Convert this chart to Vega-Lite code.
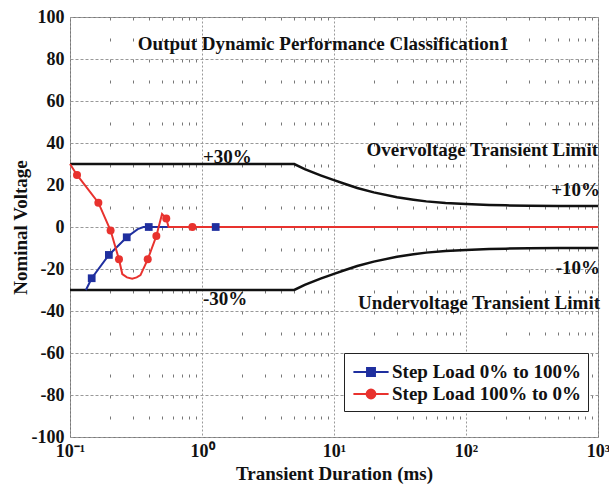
{
  "$schema": "https://vega.github.io/schema/vega-lite/v6.json",
  "width": 528,
  "height": 420,
  "autosize": "none",
  "padding": {"left": 70, "top": 17, "right": 11, "bottom": 54},
  "background": "white",
  "config": {
    "view": {"stroke": "#777", "strokeWidth": 1},
    "font": "Liberation Serif"
  },
  "datasets": {
    "limits": [
      {"t": 0.1, "v": 30, "limit": "upper"}, {"t": 5, "v": 30, "limit": "upper"}, {"t": 6, "v": 27.6, "limit": "upper"}, {"t": 7, "v": 25.9, "limit": "upper"}, {"t": 8, "v": 24.5, "limit": "upper"}, {"t": 10, "v": 22.3, "limit": "upper"}, {"t": 12, "v": 20.6, "limit": "upper"}, {"t": 15, "v": 18.6, "limit": "upper"}, {"t": 20, "v": 16.5, "limit": "upper"}, {"t": 30, "v": 14.2, "limit": "upper"}, {"t": 40, "v": 13, "limit": "upper"}, {"t": 50, "v": 12.2, "limit": "upper"}, {"t": 70, "v": 11.4, "limit": "upper"}, {"t": 100, "v": 10.9, "limit": "upper"}, {"t": 150, "v": 10.5, "limit": "upper"}, {"t": 200, "v": 10.3, "limit": "upper"}, {"t": 300, "v": 10.1, "limit": "upper"}, {"t": 500, "v": 10, "limit": "upper"}, {"t": 1000, "v": 10, "limit": "upper"},
      {"t": 0.1, "v": -30, "limit": "lower"}, {"t": 5, "v": -30, "limit": "lower"}, {"t": 6, "v": -27.6, "limit": "lower"}, {"t": 7, "v": -25.9, "limit": "lower"}, {"t": 8, "v": -24.5, "limit": "lower"}, {"t": 10, "v": -22.3, "limit": "lower"}, {"t": 12, "v": -20.6, "limit": "lower"}, {"t": 15, "v": -18.6, "limit": "lower"}, {"t": 20, "v": -16.5, "limit": "lower"}, {"t": 30, "v": -14.2, "limit": "lower"}, {"t": 40, "v": -13, "limit": "lower"}, {"t": 50, "v": -12.2, "limit": "lower"}, {"t": 70, "v": -11.4, "limit": "lower"}, {"t": 100, "v": -10.9, "limit": "lower"}, {"t": 150, "v": -10.5, "limit": "lower"}, {"t": 200, "v": -10.3, "limit": "lower"}, {"t": 300, "v": -10.1, "limit": "lower"}, {"t": 500, "v": -10, "limit": "lower"}, {"t": 1000, "v": -10, "limit": "lower"}
    ],
    "curves": [
      {"t": 0.132, "v": -30, "series": "Step Load 0% to 100%"},
      {"t": 0.146, "v": -24.4, "series": "Step Load 0% to 100%"},
      {"t": 0.197, "v": -13.3, "series": "Step Load 0% to 100%"},
      {"t": 0.269, "v": -4.9, "series": "Step Load 0% to 100%"},
      {"t": 0.326, "v": -1, "series": "Step Load 0% to 100%"},
      {"t": 0.36, "v": 0, "series": "Step Load 0% to 100%"},
      {"t": 0.395, "v": 0, "series": "Step Load 0% to 100%"},
      {"t": 1.27, "v": 0, "series": "Step Load 0% to 100%"},
      {"t": 0.1, "v": 30, "series": "Step Load 100% to 0%"},
      {"t": 0.113, "v": 24.8, "series": "Step Load 100% to 0%"},
      {"t": 0.164, "v": 11.6, "series": "Step Load 100% to 0%"},
      {"t": 0.203, "v": -1.7, "series": "Step Load 100% to 0%"},
      {"t": 0.235, "v": -15.4, "series": "Step Load 100% to 0%"},
      {"t": 0.249, "v": -22.4, "series": "Step Load 100% to 0%"},
      {"t": 0.27, "v": -24, "series": "Step Load 100% to 0%"},
      {"t": 0.296, "v": -24.6, "series": "Step Load 100% to 0%"},
      {"t": 0.32, "v": -24, "series": "Step Load 100% to 0%"},
      {"t": 0.342, "v": -22.9, "series": "Step Load 100% to 0%"},
      {"t": 0.388, "v": -15.4, "series": "Step Load 100% to 0%"},
      {"t": 0.451, "v": -4.3, "series": "Step Load 100% to 0%"},
      {"t": 0.498, "v": 6.2, "series": "Step Load 100% to 0%"},
      {"t": 0.536, "v": 4.1, "series": "Step Load 100% to 0%"},
      {"t": 0.558, "v": 0, "series": "Step Load 100% to 0%"},
      {"t": 1000, "v": 0, "series": "Step Load 100% to 0%"}
    ],
    "markers": [
      {"t": 0.146, "v": -24.4, "series": "Step Load 0% to 100%"},
      {"t": 0.197, "v": -13.3, "series": "Step Load 0% to 100%"},
      {"t": 0.269, "v": -4.9, "series": "Step Load 0% to 100%"},
      {"t": 0.395, "v": 0, "series": "Step Load 0% to 100%"},
      {"t": 1.27, "v": 0, "series": "Step Load 0% to 100%"},
      {"t": 0.113, "v": 24.8, "series": "Step Load 100% to 0%"},
      {"t": 0.164, "v": 11.6, "series": "Step Load 100% to 0%"},
      {"t": 0.203, "v": -1.7, "series": "Step Load 100% to 0%"},
      {"t": 0.235, "v": -15.4, "series": "Step Load 100% to 0%"},
      {"t": 0.388, "v": -15.4, "series": "Step Load 100% to 0%"},
      {"t": 0.451, "v": -4.3, "series": "Step Load 100% to 0%"},
      {"t": 0.536, "v": 4.1, "series": "Step Load 100% to 0%"},
      {"t": 0.845, "v": 0, "series": "Step Load 100% to 0%"}
    ],
    "labels": [
      {"t": 8.3, "v": 87, "text": "Output Dynamic Performance Classification1", "grp": "center"},
      {"t": 1, "v": 33.3, "text": "+30%", "grp": "left"},
      {"t": 1, "v": -34.5, "text": "-30%", "grp": "left"},
      {"t": 966, "v": 36.7, "text": "Overvoltage Transient Limit", "grp": "right"},
      {"t": 1000, "v": 17.5, "text": "+10%", "grp": "right"},
      {"t": 1000, "v": -19.5, "text": "-10%", "grp": "right"},
      {"t": 1000, "v": -36, "text": "Undervoltage Transient Limit", "grp": "right"}
    ]
  },
  "layer": [
    {
      "data": {"name": "limits"},
      "mark": {"type": "line", "color": "#111111", "strokeWidth": 2.5},
      "encoding": {
        "x": {
          "field": "t", "type": "quantitative",
          "scale": {"type": "log", "domain": [0.1, 1000], "nice": false},
          "axis": {
            "orient": "bottom",
            "values": [0.1, 0.2, 0.3, 0.4, 0.5, 0.6, 0.7, 0.8, 0.9, 1, 2, 3, 4, 5, 6, 7, 8, 9, 10, 20, 30, 40, 50, 60, 70, 80, 90, 100, 200, 300, 400, 500, 600, 700, 800, 900, 1000],
            "labelExpr": "datum.value == 0.1 ? '10⁻¹' : datum.value == 1 ? '10⁰' : datum.value == 10 ? '10¹' : datum.value == 100 ? '10²' : datum.value == 1000 ? '10³' : ''",
            "title": "Transient Duration (ms)",
            "titleFont": "Liberation Serif", "titleFontWeight": "bold", "titleFontSize": 19, "titleColor": "#111", "titlePadding": 4,
            "labelFont": "Liberation Serif", "labelFontWeight": "bold", "labelFontSize": 18, "labelColor": "#111", "labelPadding": 5,
            "labelBound": false, "labelOverlap": false, "labelFlush": false,
            "domain": false, "ticks": false,
            "grid": true,
            "gridColor": {"condition": {"test": "indexof([0.1, 1, 10, 100, 1000], datum.value) >= 0", "value": "#999"}, "value": "#777"},
            "gridDash": {"condition": {"test": "indexof([0.1, 1, 10, 100, 1000], datum.value) >= 0", "value": [2, 2]}, "value": [3, 18]},
            "gridWidth": 1
          }
        },
        "y": {
          "field": "v", "type": "quantitative",
          "scale": {"domain": [-100, 100], "nice": false},
          "axis": {
            "values": [-100, -80, -60, -40, -20, 0, 20, 40, 60, 80, 100],
            "labelExpr": "'' + datum.value",
            "title": "Nominal Voltage",
            "titleFont": "Liberation Serif", "titleFontWeight": "bold", "titleFontSize": 19, "titleColor": "#111", "titlePadding": 1,
            "labelFont": "Liberation Serif", "labelFontWeight": "bold", "labelFontSize": 18, "labelColor": "#111", "labelPadding": 6,
            "labelOverlap": false, "labelBound": false,
            "domain": false, "ticks": false,
            "grid": true, "gridColor": "#999", "gridDash": [3, 2], "gridWidth": 1
          }
        },
        "detail": {"field": "limit"}
      }
    },
    {
      "data": {"name": "curves"},
      "mark": {"type": "line", "strokeWidth": 2},
      "encoding": {
        "x": {"field": "t", "type": "quantitative", "scale": {"type": "log", "domain": [0.1, 1000], "nice": false}},
        "y": {"field": "v", "type": "quantitative", "scale": {"domain": [-100, 100], "nice": false}},
        "color": {
          "field": "series", "type": "nominal",
          "scale": {"domain": ["Step Load 0% to 100%", "Step Load 100% to 0%"], "range": ["#1f2f9f", "#e8322e"]},
          "legend": {
            "orient": "none", "legendX": 274, "legendY": 336,
            "title": null,
            "strokeColor": "#222", "fillColor": "white",
            "padding": 7,
            "labelFont": "Liberation Serif", "labelFontWeight": "bold", "labelFontSize": 19, "labelColor": "#111",
            "labelLimit": 400,
            "symbolOffset": 8,
            "labelOffset": 9, "rowPadding": 0,
            "symbolSize": 484,
            "encode": {
              "symbols": {
                "update": {
                  "shape": {"signal": "datum.value === 'Step Load 0% to 100%' ? 'M-1.6,0H1.6M-0.36,-0.36H0.36V0.36H-0.36Z' : 'M-1.6,0H1.6M0.4,0A0.4,0.4 0 1,1 -0.4,0A0.4,0.4 0 1,1 0.4,0Z'"},
                  "size": {"value": 484},
                  "strokeWidth": {"value": 2},
                  "fill": {"signal": "datum.value === 'Step Load 0% to 100%' ? '#1f2f9f' : '#e8322e'"},
                  "stroke": {"signal": "datum.value === 'Step Load 0% to 100%' ? '#1f2f9f' : '#e8322e'"},
                  "opacity": {"value": 1},
                  "fillOpacity": {"value": 1},
                  "strokeOpacity": {"value": 1}
                }
              }
            }
          }
        }
      }
    },
    {
      "data": {"name": "markers"},
      "transform": [{"filter": "datum.series === 'Step Load 0% to 100%'"}],
      "mark": {"type": "point", "shape": "square", "filled": true, "size": 60, "opacity": 1, "color": "#1f2f9f"},
      "encoding": {
        "x": {"field": "t", "type": "quantitative", "scale": {"type": "log", "domain": [0.1, 1000], "nice": false}},
        "y": {"field": "v", "type": "quantitative", "scale": {"domain": [-100, 100], "nice": false}}
      }
    },
    {
      "data": {"name": "markers"},
      "transform": [{"filter": "datum.series === 'Step Load 100% to 0%'"}],
      "mark": {"type": "point", "shape": "circle", "filled": true, "size": 64, "opacity": 1, "color": "#e8322e"},
      "encoding": {
        "x": {"field": "t", "type": "quantitative", "scale": {"type": "log", "domain": [0.1, 1000], "nice": false}},
        "y": {"field": "v", "type": "quantitative", "scale": {"domain": [-100, 100], "nice": false}}
      }
    },
    {
      "data": {"name": "labels"},
      "transform": [{"filter": "datum.grp === 'center'"}],
      "mark": {"type": "text", "align": "center", "baseline": "middle", "font": "Liberation Serif", "fontWeight": "bold", "fontSize": 19, "color": "#111"},
      "encoding": {
        "x": {"field": "t", "type": "quantitative", "scale": {"type": "log", "domain": [0.1, 1000], "nice": false}},
        "y": {"field": "v", "type": "quantitative", "scale": {"domain": [-100, 100], "nice": false}},
        "text": {"field": "text"}
      }
    },
    {
      "data": {"name": "labels"},
      "transform": [{"filter": "datum.grp === 'left'"}],
      "mark": {"type": "text", "align": "left", "baseline": "middle", "dx": 1, "font": "Liberation Serif", "fontWeight": "bold", "fontSize": 19, "color": "#111"},
      "encoding": {
        "x": {"field": "t", "type": "quantitative", "scale": {"type": "log", "domain": [0.1, 1000], "nice": false}},
        "y": {"field": "v", "type": "quantitative", "scale": {"domain": [-100, 100], "nice": false}},
        "text": {"field": "text"}
      }
    },
    {
      "data": {"name": "labels"},
      "transform": [{"filter": "datum.grp === 'right'"}],
      "mark": {"type": "text", "align": "right", "baseline": "middle", "dx": 2, "font": "Liberation Serif", "fontWeight": "bold", "fontSize": 19, "color": "#111"},
      "encoding": {
        "x": {"field": "t", "type": "quantitative", "scale": {"type": "log", "domain": [0.1, 1000], "nice": false}},
        "y": {"field": "v", "type": "quantitative", "scale": {"domain": [-100, 100], "nice": false}},
        "text": {"field": "text"}
      }
    }
  ]
}
